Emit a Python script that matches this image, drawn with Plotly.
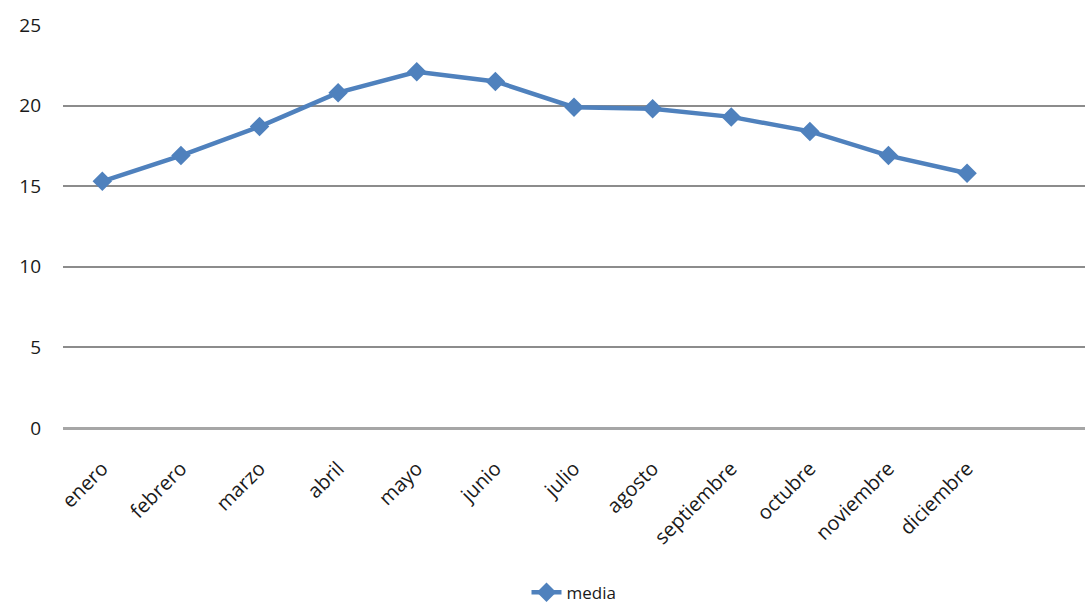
import plotly.graph_objects as go

meses = ["enero", "febrero", "marzo", "abril", "mayo", "junio", "julio",
         "agosto", "septiembre", "octubre", "noviembre", "diciembre"]
media = [15.3, 16.9, 18.7, 20.8, 22.1, 21.5, 19.9, 19.8, 19.3, 18.4, 16.9, 15.8]
y_ticks = [0, 5, 10, 15, 20, 25]

line_color = "#4F81BD"
grid_color = "#8C8C8C"
font_family = "Open Sans, DejaVu Sans, sans-serif"

fig = go.Figure()
fig.add_trace(go.Scatter(
    x=list(range(len(meses))), y=media, name="media",
    mode="lines+markers",
    line=dict(color=line_color, width=4.5),
    marker=dict(symbol="diamond", size=15, color=line_color),
))

fig.update_layout(
    width=1092, height=611,
    margin=dict(l=63, r=7, t=25, b=183),
    paper_bgcolor="white", plot_bgcolor="white",
    font=dict(family=font_family, size=19, color="#1a1a1a"),
    showlegend=True,
    legend=dict(orientation="h", x=0.5, xanchor="center",
                yref="container", y=0.03, yanchor="middle",
                font=dict(size=17), bgcolor="rgba(0,0,0,0)"),
    xaxis=dict(
        range=[-0.5, len(meses) + 0.5], automargin=False,
        tickmode="array", tickvals=list(range(len(meses))), ticktext=meses,
        tickangle=-45, showgrid=False, zeroline=False, showline=False,
        ticks="outside", ticklen=20, tickcolor="rgba(0,0,0,0)",
        tickfont=dict(size=20, color="#1a1a1a"),
    ),
    yaxis=dict(
        range=[0, 25], tickvals=y_ticks, showgrid=True, gridcolor=grid_color,
        gridwidth=2, zeroline=True, zerolinecolor="#A6A6A6", zerolinewidth=3,
        showline=False, ticks="", ticklabelstandoff=21, automargin=False,
        tickfont=dict(size=19, color="#1a1a1a"),
    ),
)

fig.write_html("out.html")
